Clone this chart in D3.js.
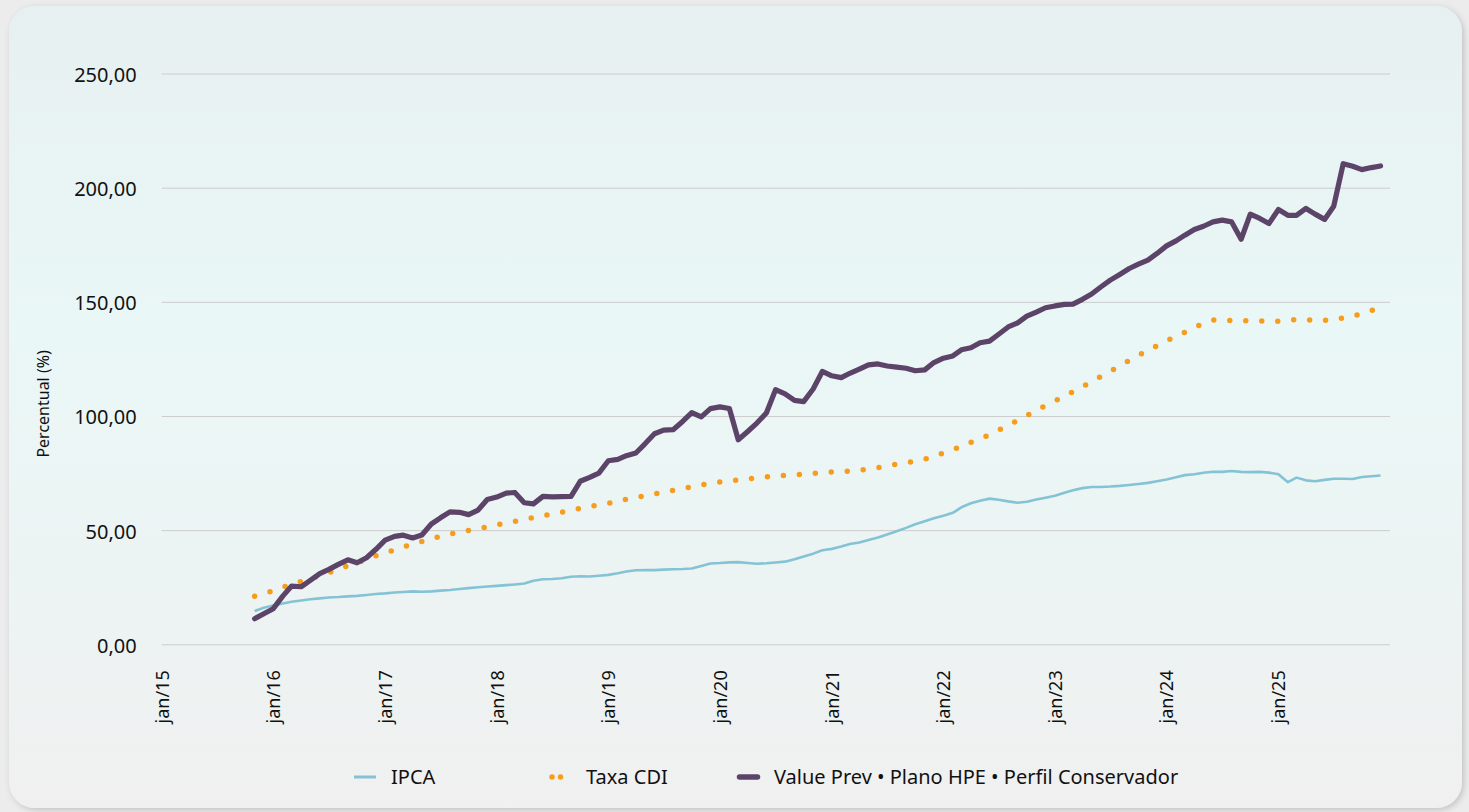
<!DOCTYPE html>
<html lang="pt-BR">
<head>
<meta charset="utf-8">
<title>Rentabilidade acumulada</title>
<script src="https://cdn.jsdelivr.net/npm/d3@7"></script>
<style>
  html, body { margin: 0; background: #ececec; }
  svg { display: block; font-family: 'Noto Sans', sans-serif; }
</style>
</head>
<body>
<svg id="chart" width="1469" height="812"></svg>
<script>
'use strict';

// primeiro mês da série (mensal)
const firstMonth = '2015-11';

const ipca = [
  14.6, 16.0, 17.0, 17.9, 18.6, 19.2, 19.7, 20.1, 20.5, 20.7, 21.0, 21.2,
  21.6, 22.0, 22.3, 22.7, 22.9, 23.2, 23.0, 23.2, 23.5, 23.8, 24.2, 24.6,
  25.0, 25.3, 25.6, 25.9, 26.2, 26.6, 27.8, 28.5, 28.6, 28.9, 29.6, 29.8,
  29.7, 30.0, 30.4, 31.1, 31.9, 32.4, 32.5, 32.5, 32.7, 32.9, 33.0, 33.2,
  34.3, 35.4, 35.6, 35.9, 36.0, 35.6, 35.3, 35.5, 35.8, 36.2, 37.3, 38.5,
  39.7, 41.2, 41.8, 42.8, 43.9, 44.6, 45.7, 46.8, 48.1, 49.5, 51.0, 52.6,
  53.9, 55.2, 56.3, 57.6, 60.0, 61.8, 62.9, 63.8, 63.3, 62.6, 62.0, 62.4,
  63.4, 64.2, 65.1, 66.4, 67.5, 68.4, 68.9, 68.9, 69.1, 69.4, 69.8, 70.2,
  70.7, 71.4, 72.2, 73.2, 74.1, 74.5, 75.1, 75.6, 75.5, 75.9, 75.5, 75.4,
  75.5, 75.2, 74.5, 71.0, 73.0, 71.8, 71.4, 72.0, 72.5, 72.5, 72.4, 73.3,
  73.6, 73.9
];

const cdi = [
  21.0, 22.2, 23.4, 24.9, 26.3, 27.5, 28.8, 30.0, 31.4, 33.0, 34.4, 35.8,
  37.0, 38.7, 40.0, 41.3, 42.6, 43.8, 45.0, 46.2, 47.3, 48.3, 49.1, 49.9,
  50.6, 51.5, 52.3, 53.1, 53.8, 54.6, 55.5, 56.3, 57.1, 57.9, 58.6, 59.5,
  60.3, 61.0, 61.7, 62.6, 63.5, 64.3, 65.0, 65.8, 66.6, 67.4, 68.2, 69.0,
  69.8, 70.6, 71.1, 71.5, 72.0, 72.5, 72.9, 73.4, 73.7, 74.0, 74.2, 74.5,
  74.9, 75.2, 75.5, 75.6, 75.8, 76.1, 76.8, 77.4, 78.1, 78.9, 79.6, 80.2,
  81.1, 82.4, 83.8, 85.1, 86.9, 88.5, 90.0, 91.8, 93.8, 95.9, 98.1, 100.2,
  102.4, 104.6, 106.6, 108.5, 110.6, 112.9, 114.8, 117.4, 119.6, 122.0, 124.3, 126.5,
  128.7, 130.8, 132.9, 134.9, 136.7, 138.7, 140.6, 142.0, 141.9, 141.8, 141.7, 141.7,
  141.6, 141.5, 141.5, 141.9, 142.2, 141.9, 142.2, 141.8, 142.5, 142.9, 143.5, 145.0,
  146.2, 147.5
];

const plano = [
  11.2, 13.4, 15.6, 21.1, 25.5, 25.2, 28.0, 31.0, 32.8, 35.0, 37.0, 35.7,
  37.9, 41.5, 45.6, 47.3, 47.8, 46.6, 47.9, 52.7, 55.4, 58.0, 57.8, 56.8,
  58.8, 63.4, 64.5, 66.2, 66.5, 62.0, 61.5, 64.8, 64.6, 64.7, 64.8, 71.4,
  73.1, 75.0, 80.4, 81.0, 82.6, 83.8, 87.8, 92.2, 93.8, 94.0, 97.6, 101.5,
  99.6, 103.2, 104.0, 103.3, 89.6, 93.2, 96.9, 101.3, 111.5, 109.7, 106.8, 106.3,
  111.8, 119.5, 117.6, 116.8, 118.7, 120.5, 122.4, 122.8, 121.9, 121.4, 120.9, 119.8,
  120.2, 123.4, 125.3, 126.3, 129.0, 129.9, 132.1, 132.8, 135.8, 139.0, 140.8, 143.7,
  145.5, 147.4, 148.2, 148.9, 149.0, 151.1, 153.4, 156.6, 159.5, 162.0, 164.6, 166.5,
  168.3, 171.2, 174.5, 176.7, 179.2, 181.7, 183.1, 185.0, 185.8, 185.0, 177.4, 188.4,
  186.5, 184.3, 190.4, 187.9, 187.9, 190.9, 188.4, 186.1, 191.9, 210.5, 209.4, 207.9,
  208.8, 209.5
];

const yTicks = [0, 50, 100, 150, 200, 250];
const xTickLabels = ['jan/15', 'jan/16', 'jan/17', 'jan/18', 'jan/19', 'jan/20',
                     'jan/21', 'jan/22', 'jan/23', 'jan/24', 'jan/25'];
const seriesNames = ['IPCA', 'Taxa CDI', 'Value Prev • Plano HPE • Perfil Conservador'];
const seriesColors = ['#84c3d5', '#f79d1e', '#5c4469'];

const M = { left: 161.7, right: 1390, top: 73.5, bottom: 644.3 };

const svg = d3.select('#chart');
const defs = svg.append('defs');

// fundo do cartão
const grad = defs.append('linearGradient').attr('id', 'cardBg')
  .attr('x1', 0).attr('y1', 0).attr('x2', 0).attr('y2', 1);
[['0%', '#e7f0f0'], ['40%', '#eaf7f7'], ['70%', '#ecf4f3'], ['100%', '#f0f0f0']]
  .forEach(([o, c]) => grad.append('stop').attr('offset', o).attr('stop-color', c));
const shadow = defs.append('filter').attr('id', 'cardShadow')
  .attr('x', '-5%').attr('y', '-5%').attr('width', '110%').attr('height', '110%');
shadow.append('feDropShadow').attr('dx', 2).attr('dy', 2).attr('stdDeviation', 3)
  .attr('flood-color', '#000').attr('flood-opacity', 0.18);

svg.append('rect')
  .attr('x', 9).attr('y', 6).attr('width', 1453).attr('height', 802)
  .attr('rx', 26).attr('fill', 'url(#cardBg)').attr('filter', 'url(#cardShadow)');

// escalas
const parseMonth = d3.timeParse('%Y-%m');
const start = parseMonth(firstMonth);
const months = plano.map((_, i) => d3.timeMonth.offset(start, i));
const tickDates = xTickLabels.map((_, i) => new Date(2015 + i, 0, 1));

const x = d3.scaleTime()
  .domain([new Date(2015, 0, 1), new Date(2026, 0, 1)])
  .range([M.left, M.right]);
const y = d3.scaleLinear().domain([0, 250]).range([M.bottom, M.top]);

const ptBR = d3.formatLocale({ decimal: ',', thousands: '.', grouping: [3], currency: ['R$', ''] });
const fmt = ptBR.format(',.2f');

// grade + eixo y
const gy = svg.append('g')
  .attr('transform', `translate(${M.left},0)`)
  .call(d3.axisLeft(y).tickValues(yTicks).tickFormat(fmt)
    .tickSize(-(M.right - M.left)).tickPadding(25));
gy.select('.domain').remove();
gy.selectAll('.tick line').attr('stroke', '#cccccc').attr('stroke-width', 1);
gy.selectAll('.tick text')
  .attr('fill', '#111').attr('font-size', 20).attr('dy', '0.4em')
  .style('font-family', "'Noto Sans', sans-serif");

// eixo x (rótulos verticais)
const gx = svg.append('g')
  .attr('transform', `translate(0,${M.bottom})`)
  .call(d3.axisBottom(x).tickValues(tickDates)
    .tickFormat((d, i) => xTickLabels[i]).tickSize(0));
gx.select('.domain').remove();
gx.selectAll('.tick text')
  .attr('fill', '#111').attr('font-size', 18)
  .style('font-family', "'Noto Sans', sans-serif")
  .attr('text-anchor', 'end')
  .attr('transform', 'translate(0,26) rotate(-90)')
  .attr('x', 0).attr('y', 0).attr('dy', '0.35em');

// título do eixo y
svg.append('text')
  .attr('transform', `translate(43,${(M.top + M.bottom) / 2 + 45}) rotate(-90)`)
  .attr('text-anchor', 'middle').attr('dy', '0.35em')
  .attr('font-size', 16).attr('fill', '#111')
  .text('Percentual (%)');

// séries
const line = d3.line().x((d, i) => x(months[i])).y(d => y(d));

svg.append('path').datum(ipca)
  .attr('fill', 'none').attr('stroke', seriesColors[0]).attr('stroke-width', 2.6)
  .attr('stroke-linejoin', 'round').attr('d', line);

svg.append('path').datum(cdi)
  .attr('fill', 'none').attr('stroke', seriesColors[1]).attr('stroke-width', 5.5)
  .attr('stroke-linecap', 'round').attr('stroke-dasharray', '0 16')
  .attr('d', line);

svg.append('path').datum(plano)
  .attr('fill', 'none').attr('stroke', seriesColors[2]).attr('stroke-width', 5.2)
  .attr('stroke-linejoin', 'round').attr('stroke-linecap', 'round').attr('d', line);

// legenda
const legendX = [354, 549, 737];
const legendY = 777;
const lg = svg.append('g');
seriesNames.forEach((name, i) => {
  const g = lg.append('g').attr('transform', `translate(${legendX[i]},${legendY})`);
  if (i === 0) {
    g.append('line').attr('x1', 0).attr('x2', 22).attr('stroke', seriesColors[0]).attr('stroke-width', 3);
  } else if (i === 1) {
    g.append('line').attr('x1', 3).attr('x2', 20).attr('stroke', seriesColors[1])
      .attr('stroke-width', 5.5).attr('stroke-linecap', 'round').attr('stroke-dasharray', '0 8.5');
  } else {
    g.append('line').attr('x1', 2.5).attr('x2', 20.5).attr('stroke', seriesColors[2])
      .attr('stroke-width', 5.5).attr('stroke-linecap', 'round');
  }
  g.append('text').attr('x', 37).attr('dy', '0.36em')
    .attr('font-size', 20).attr('fill', '#111').text(name);
});
</script>
</body>
</html>
